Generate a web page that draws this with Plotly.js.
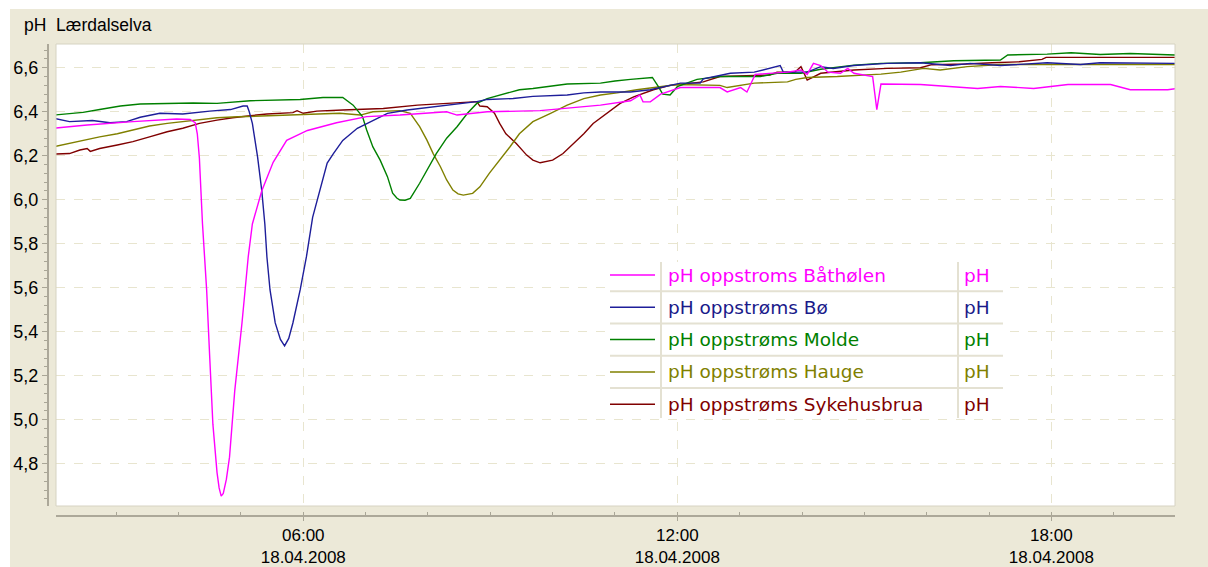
<!DOCTYPE html>
<html><head><meta charset="utf-8">
<script src="https://cdn.plot.ly/plotly-3.0.1.min.js"></script>
<style>html,body{margin:0;padding:0;background:#fff;}#chart{width:1208px;height:567px;}</style>
</head><body><div id="chart"></div>
<script>
const DAY = '2008-04-18';
const chartTitle = 'pH\u00a0\u00a0Lærdalselva';
const seriesNames = ['pH oppstroms Båthølen','pH oppstrøms Bø','pH oppstrøms Molde','pH oppstrøms Hauge','pH oppstrøms Sykehusbrua'];
const seriesUnits = ['pH','pH','pH','pH','pH'];
const lineColors = ['#FF00FF','#1E1E9A','#008000','#808000','#800000'];
const textColors = ['#FF00FF','#1A1A8A','#008000','#808000','#800000'];

const bathTimes = ['02:00','02:32','03:16','03:58','04:11','04:16','04:18','04:20','04:23','04:27','04:30','04:33','04:37','04:39','04:41','04:43','04:46','04:49','04:54','05:01','05:07','05:11','05:20','05:31','05:44','06:04','06:32','07:01','07:33','08:18','08:28','08:57','09:48','10:00','10:46','11:15','11:24','11:27','11:34','11:44','11:56','12:03','12:41','12:48','13:01','13:07','13:12','13:15','13:46','13:59','14:05','14:11','14:18','14:25','14:37','14:44','14:50','15:06','15:08','15:12','15:16','15:54','16:49','17:11','17:43','18:16','18:57','19:16','19:33','19:52','20:00'];
const bathValues = [6.325,6.34,6.355,6.367,6.365,6.35,6.30,6.19,5.89,5.59,5.28,4.98,4.76,4.69,4.653,4.665,4.73,4.83,5.13,5.44,5.74,5.89,6.04,6.17,6.27,6.315,6.35,6.378,6.385,6.40,6.385,6.40,6.405,6.41,6.43,6.45,6.476,6.445,6.445,6.48,6.50,6.51,6.51,6.49,6.51,6.49,6.54,6.57,6.58,6.59,6.57,6.62,6.61,6.58,6.575,6.597,6.575,6.56,6.56,6.41,6.526,6.524,6.506,6.515,6.506,6.524,6.524,6.50,6.50,6.50,6.505];

const boTimes = ['02:00','02:15','02:37','02:54','03:10','03:23','03:42','04:04','04:30','04:50','05:02','05:06','05:08','05:11','05:16','05:20','05:23','05:25','05:28','05:33','05:38','05:42','05:46','05:50','05:57','06:03','06:09','06:16','06:23','06:29','06:38','06:52','07:01','07:21','07:40','08:05','08:28','08:47','08:57','09:22','09:41','10:14','10:30','10:46','11:15','11:34','12:03','12:22','12:25','12:51','13:14','13:27','13:39','13:42','14:05','14:18','14:30','14:50','15:22','15:54','16:23','16:42','17:11','17:56','18:28','18:47','19:26','20:00'];
const boValues = [6.37,6.355,6.36,6.35,6.355,6.375,6.393,6.39,6.403,6.41,6.426,6.426,6.40,6.347,6.195,6.044,5.89,5.74,5.59,5.44,5.365,5.336,5.37,5.44,5.59,5.74,5.92,6.044,6.167,6.21,6.27,6.325,6.347,6.393,6.408,6.423,6.435,6.446,6.456,6.46,6.47,6.476,6.486,6.49,6.49,6.50,6.53,6.53,6.55,6.575,6.58,6.597,6.61,6.58,6.58,6.605,6.597,6.61,6.62,6.623,6.61,6.62,6.61,6.623,6.615,6.623,6.623,6.62];

const moldeTimes = ['02:00','02:28','02:44','03:04','03:23','04:14','04:37','05:09','05:57','06:19','06:38','06:48','06:57','07:01','07:07','07:14','07:21','07:26','07:30','07:33','07:38','07:43','07:52','07:59','08:08','08:18','08:28','08:38','08:47','08:57','09:09','09:28','09:41','10:14','10:46','11:00','11:15','11:36','11:41','11:46','11:53','12:00','12:19','12:41','13:20','13:36','13:59','14:18','14:50','15:16','15:54','16:26','17:11','17:18','17:56','18:19','18:47','19:16','20:00'];
const moldeValues = [6.385,6.397,6.41,6.426,6.435,6.44,6.438,6.45,6.456,6.465,6.465,6.43,6.378,6.317,6.24,6.18,6.105,6.03,6.008,5.999,5.998,6.006,6.075,6.135,6.21,6.28,6.332,6.393,6.438,6.46,6.476,6.50,6.506,6.526,6.53,6.54,6.547,6.556,6.52,6.48,6.476,6.514,6.547,6.56,6.56,6.575,6.575,6.593,6.612,6.62,6.623,6.632,6.635,6.658,6.662,6.668,6.66,6.665,6.658];

const haugeTimes = ['02:00','02:15','02:28','02:44','03:01','03:16','03:32','03:49','04:04','04:20','04:37','04:57','05:16','05:41','06:13','06:35','06:55','07:07','07:33','07:43','07:52','07:59','08:05','08:12','08:18','08:24','08:29','08:34','08:43','08:50','08:59','09:09','09:19','09:28','09:41','09:58','10:14','10:30','10:46','11:02','11:21','12:00','12:41','12:48','13:14','13:46','13:54','14:05','14:34','15:16','15:35','15:57','16:13','16:39','16:59','17:11','20:00'];
const haugeValues = [6.241,6.256,6.271,6.286,6.30,6.317,6.335,6.347,6.355,6.365,6.373,6.377,6.38,6.385,6.388,6.393,6.385,6.40,6.405,6.393,6.332,6.271,6.21,6.15,6.09,6.044,6.027,6.021,6.029,6.059,6.12,6.18,6.241,6.30,6.355,6.393,6.43,6.46,6.476,6.486,6.50,6.524,6.52,6.51,6.53,6.536,6.547,6.556,6.56,6.571,6.58,6.597,6.59,6.605,6.61,6.615,6.615];

const sykTimes = ['02:00','02:15','02:25','02:32','02:35','02:44','03:01','03:16','03:32','03:49','04:04','04:20','04:37','04:52','05:09','05:25','05:50','05:54','06:00','06:13','06:38','07:17','07:50','08:22','08:47','08:50','08:57','09:04','09:09','09:15','09:25','09:35','09:41','09:48','10:00','10:10','10:20','10:30','10:39','10:52','11:05','11:18','11:37','11:53','12:25','12:41','13:29','13:36','13:53','13:59','14:05','14:18','14:50','15:22','15:54','16:05','16:38','17:03','17:29','17:51','17:55','20:00'];
const sykValues = [6.208,6.21,6.226,6.233,6.22,6.233,6.249,6.264,6.286,6.309,6.325,6.347,6.362,6.373,6.382,6.39,6.396,6.405,6.393,6.403,6.408,6.415,6.43,6.44,6.446,6.426,6.423,6.393,6.347,6.30,6.256,6.203,6.18,6.168,6.18,6.21,6.256,6.30,6.347,6.393,6.438,6.468,6.50,6.52,6.536,6.56,6.567,6.58,6.58,6.605,6.544,6.575,6.59,6.597,6.60,6.614,6.617,6.623,6.627,6.638,6.647,6.647];

const yTickVals = [4.8,5.0,5.2,5.4,5.6,5.8,6.0,6.2,6.4,6.6];
const yTickText = ['4,8','5,0','5,2','5,4','5,6','5,8','6,0','6,2','6,4','6,6'];
const xTickVals = ['06:00','12:00','18:00'];
const xTickText = ['06:00<br>18.04.2008','12:00<br>18.04.2008','18:00<br>18.04.2008'];

const allTimes = [bathTimes, boTimes, moldeTimes, haugeTimes, sykTimes];
const allValues = [bathValues, boValues, moldeValues, haugeValues, sykValues];
const ts = t => DAY + ' ' + t;

// layout geometry (pixels)
const W = 1208, H = 567, ML = 47, MR = 33, MT = 44, MB = 52;
const PW = W - ML - MR, PH = H - MT - MB;
const px = x => (x - ML) / PW;
const py = y => (H - MB - y) / PH;

const traces = [];
for (let i = allTimes.length - 1; i >= 0; i--) {
  traces.push({
    type: 'scatter', mode: 'lines', name: seriesNames[i],
    x: allTimes[i].map(ts), y: allValues[i],
    line: {color: lineColors[i], width: 1.4},
    hoverinfo: 'skip'
  });
}

const shapes = [
  {type: 'rect', xref: 'paper', yref: 'paper', layer: 'above',
   x0: px(0), x1: px(W), y0: py(9), y1: py(0), fillcolor: '#FFFFFF', line: {width: 0}},
  {type: 'rect', xref: 'paper', yref: 'paper', layer: 'above',
   x0: px(0), x1: px(10), y0: py(H), y1: py(0), fillcolor: '#FFFFFF', line: {width: 0}},
  {type: 'rect', xref: 'x domain', yref: 'y domain', layer: 'above',
   x0: 0, x1: 1, y0: 0, y1: 1, line: {color: '#D6D3C2', width: 1}},
  {type: 'rect', xref: 'paper', yref: 'paper', layer: 'above',
   x0: px(607), x1: px(1003), y0: py(418), y1: py(262), fillcolor: '#FFFFFF', line: {width: 0}},
  {type: 'line', xref: 'paper', yref: 'paper', layer: 'above',
   x0: px(661), x1: px(661), y0: py(418), y1: py(262), line: {color: '#E4E1D2', width: 2}},
  {type: 'line', xref: 'paper', yref: 'paper', layer: 'above',
   x0: px(958), x1: px(958), y0: py(418), y1: py(262), line: {color: '#E4E1D2', width: 2}}
];
const annotations = [
  {xref: 'paper', yref: 'paper', x: px(22), y: py(25), xanchor: 'left', yanchor: 'middle',
   text: chartTitle, showarrow: false, font: {family: 'Liberation Sans, Arial, sans-serif', size: 17.5, color: '#000'}}
];
const rowY0 = 275, rowStep = 32.3;
seriesNames.forEach((name, i) => {
  const yc = rowY0 + i * rowStep;
  shapes.push({type: 'line', xref: 'paper', yref: 'paper', layer: 'above',
    x0: px(610), x1: px(655), y0: py(yc), y1: py(yc), line: {color: lineColors[i], width: 1.5}});
  if (i < seriesNames.length - 1) {
    shapes.push({type: 'line', xref: 'paper', yref: 'paper', layer: 'above',
      x0: px(610), x1: px(1003), y0: py(yc + rowStep / 2), y1: py(yc + rowStep / 2), line: {color: '#E4E1D2', width: 2}});
  }
  annotations.push({xref: 'paper', yref: 'paper', x: px(666), y: py(yc), xanchor: 'left', yanchor: 'middle',
    text: name, showarrow: false, font: {family: 'DejaVu Sans, sans-serif', size: 18.5, color: textColors[i]}});
  annotations.push({xref: 'paper', yref: 'paper', x: px(962), y: py(yc), xanchor: 'left', yanchor: 'middle',
    text: seriesUnits[i], showarrow: false, font: {family: 'DejaVu Sans, sans-serif', size: 18.5, color: textColors[i]}});
});

const layout = {
  width: W, height: H,
  margin: {l: ML, r: MR, t: MT, b: MB, pad: 0},
  paper_bgcolor: '#ECE9D8', plot_bgcolor: '#FFFFFF',
  showlegend: false,
  font: {family: 'Liberation Sans, Arial, sans-serif', color: '#000'},
  xaxis: {
    type: 'date', domain: [px(56), 1], anchor: 'free', position: 0,
    range: [ts('02:02'), ts('19:59')],
    tickmode: 'array', tickvals: xTickVals.map(ts), ticktext: xTickText,
    ticks: 'outside', ticklen: 4, tickcolor: '#A9A696', tickwidth: 1,
    showline: true, linecolor: '#ACA899', linewidth: 1.5,
    showgrid: true, gridcolor: '#E8E5CF', griddash: 'dash', gridwidth: 1,
    minor: {tickmode: 'linear', tick0: ts('00:00'), dtick: 3600000, ticks: 'inside', ticklen: 3, tickcolor: '#A9A696', showgrid: false},
    zeroline: false, tickfont: {size: 17, family: 'Liberation Sans, Arial, sans-serif', color: '#000'},
    fixedrange: true
  },
  yaxis: {
    domain: [py(506), 1], anchor: 'free', position: 0,
    range: [4.608, 6.708],
    tickmode: 'array', tickvals: yTickVals, ticktext: yTickText,
    ticks: 'outside', ticklen: 5, tickcolor: '#A9A696', tickwidth: 1,
    showline: true, linecolor: '#ACA899', linewidth: 1.5,
    showgrid: true, gridcolor: '#E8E5CF', griddash: 'dash', gridwidth: 1,
    minor: {tickmode: 'linear', tick0: 0, dtick: 0.04, ticks: 'outside', ticklen: 3, tickcolor: '#A9A696', showgrid: false},
    zeroline: false, tickfont: {size: 18, family: 'Liberation Sans, Arial, sans-serif', color: '#000'},
    fixedrange: true
  },
  shapes: shapes,
  annotations: annotations
};
Plotly.newPlot('chart', traces, layout, {staticPlot: true, displayModeBar: false});
</script></body></html>
